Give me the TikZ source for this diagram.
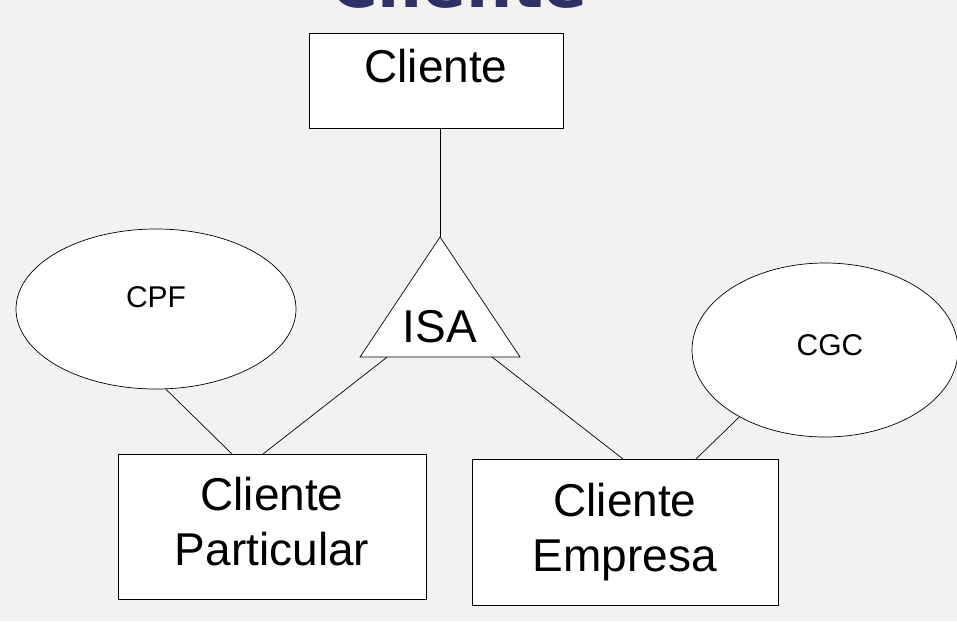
\documentclass[tikz,border=0pt]{standalone}
\usepackage{fontspec}
\setmainfont{Liberation Sans}
\newfontfamily\titlefont{DejaVu Sans}
\usetikzlibrary{shapes.geometric,calc}
\definecolor{bgc}{RGB}{243,242,240}
\definecolor{titlec}{RGB}{46,48,104}
\begin{document}
\begin{tikzpicture}[x=1pt,y=-1pt,
  entity/.style={draw=black,fill=white,line width=0.9pt,inner sep=0pt,anchor=north west},
  attr/.style={ellipse,draw=black,fill=white,line width=0.7pt,inner sep=0pt},
  link/.style={draw=black,line width=0.7pt},
  big/.style={anchor=base,inner sep=0pt,font=\fontsize{46}{52}\selectfont},
  small/.style={anchor=base,inner sep=0pt,font=\fontsize{30}{34}\selectfont}]
\useasboundingbox (0,0) rectangle (957,621);
\fill[bgc] (0,0) rectangle (957,621);
% title (cut off at top)
\node[anchor=base,inner sep=0pt,text=titlec,font=\titlefont\bfseries\fontsize{65}{70}\selectfont] (title) at (459,7) {Cliente};
% ellipses
\node[attr,minimum width=280pt,minimum height=160pt] (cpf) at (156,309) {};
\node[small] (cpfT) at (156,307) {CPF};
\node[attr,minimum width=266pt,minimum height=174pt] (cgc) at (825,350) {};
\node[small] (cgcT) at (830,355) {CGC};
% entity boxes
\node[entity,minimum width=254pt,minimum height=95pt] (cliente) at (309,33) {};
\node[big] (clienteT) at (436,82) {Cliente};
\node[entity,minimum width=308pt,minimum height=145pt] (part) at (118,454) {};
\node[big] (partA) at (272,510) {Cliente};
\node[big] (partB) at (272,565) {Particular};
\node[entity,minimum width=306pt,minimum height=146pt] (emp) at (472,459) {};
\node[big] (empA) at (625,516) {Cliente};
\node[big] (empB) at (625,571) {Empresa};
% ISA triangle
\coordinate (apex) at (440,237);
\coordinate (bl) at (360,357);
\coordinate (br) at (520,357);
\draw[link,fill=white] (apex) -- (bl) -- (br) -- cycle;
\node[big] (isa) at (440,342) {ISA};
% connectors
\draw[link] (cliente.south -| apex) -- (apex);
\draw[link] ($(bl)!0.17!(br)$) -- ($(part.north west)+(145,0)$);
\draw[link] ($(bl)!0.825!(br)$) -- ($(emp.north west)+(151,0)$);
\draw[link] (cpf.-83.5) -- ($(part.north west)+(114,0)$);
\draw[link] (cgc.218) -- ($(emp.north west)+(224,0)$);
\end{tikzpicture}
\end{document}
